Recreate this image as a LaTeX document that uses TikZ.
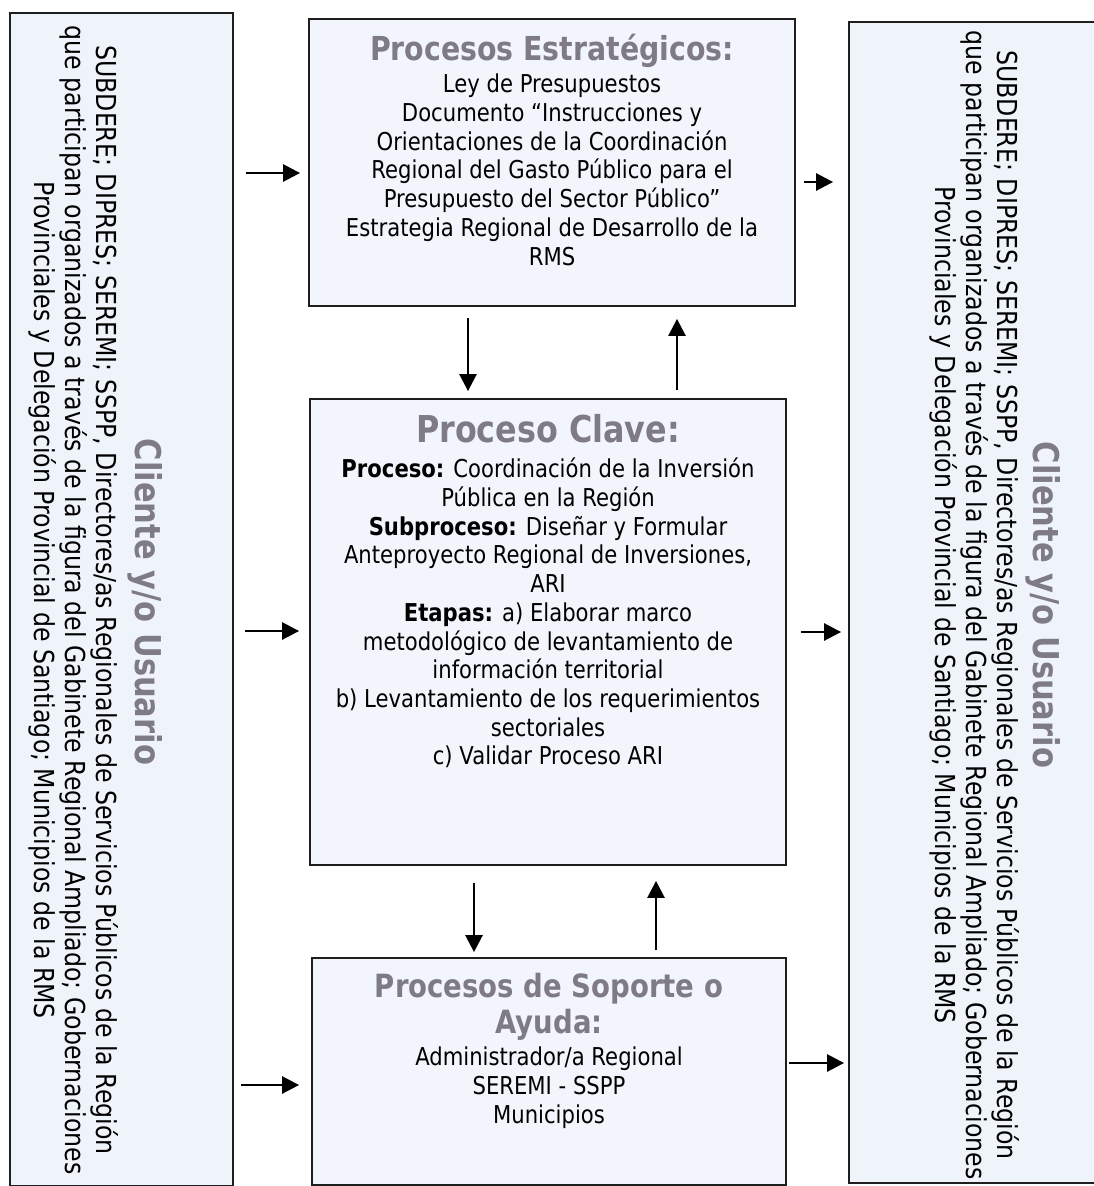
\documentclass[tikz,border=0pt]{standalone}
\usepackage{fontspec}
\setmainfont{DejaVu Sans}[FakeStretch=0.86]
\usetikzlibrary{arrows.meta}
\definecolor{boxfill}{RGB}{242,245,251}
\definecolor{sidefill}{RGB}{239,244,250}
\definecolor{titlegray}{RGB}{126,122,134}
\definecolor{edge}{RGB}{30,30,30}
\begin{document}
\begin{tikzpicture}[x=1pt,y=-1pt,
  box/.style={draw=edge, line width=1.8pt, fill=boxfill, inner sep=0pt},
  sidebox/.style={box, fill=sidefill},
  body/.style={inner sep=0pt, align=center, anchor=north, text=black, font=\fontsize{24.6}{28.7}\selectfont},
  sidetext/.style={inner sep=0pt, align=center, anchor=north, rotate=-90, text=black, font=\fontsize{27.5}{31}\selectfont},
  ttlA/.style={inner sep=0pt, anchor=base, text=titlegray, font=\bfseries\fontsize{33}{38}\selectfont},
  ttlB/.style={inner sep=0pt, anchor=base, text=titlegray, font=\bfseries\fontsize{37}{41}\selectfont},
  ttlC/.style={inner sep=0pt, align=center, anchor=north, text=titlegray, font=\bfseries\fontsize{32}{36}\selectfont},
  sidettl/.style={inner sep=0pt, anchor=base, rotate=-90, text=titlegray, font=\bfseries\fontsize{35.5}{40}\selectfont},
  arr/.style={draw=black, line width=2.6pt, -{Triangle[length=17pt,width=17pt]}}
]
\fill[white] (0,0) rectangle (1094,1186);
\useasboundingbox (0,0) rectangle (1094,1186);

% boxes
\node[sidebox, minimum width=223pt, minimum height=1173pt] (left) at (121.5,599.5) {};
\node[sidebox, minimum width=261pt, minimum height=1161pt] (right) at (979.5,602.5) {};
\node[box, minimum width=486pt, minimum height=287pt] (top) at (552,162.5) {};
\node[box, minimum width=476pt, minimum height=466pt] (mid) at (548,632) {};
\node[box, minimum width=474pt, minimum height=227pt] (bot) at (549,1071.5) {};

% texts of side boxes
\node[sidettl] (leftT) at (135,602) {Cliente y/o Usuario};
\node[sidetext] (leftB) at (119,600) {SUBDERE; DIPRES; SEREMI; SSPP, Directores/as Regionales de Servicios Públicos de la Región\\
que participan organizados a través de la figura del Gabinete Regional Ampliado; Gobernaciones\\
Provinciales y Delegación Provincial de Santiago; Municipios de la RMS};
\node[sidettl] (rightT) at (1033,605) {Cliente y/o Usuario};
\node[sidetext] (rightB) at (1020,605) {SUBDERE; DIPRES; SEREMI; SSPP, Directores/as Regionales de Servicios Públicos de la Región\\
que participan organizados a través de la figura del Gabinete Regional Ampliado; Gobernaciones\\
Provinciales y Delegación Provincial de Santiago; Municipios de la RMS};

% top box
\node[ttlA] (topT) at (552,60) {Procesos Estratégicos:};
\node[body] (topB) at (552,74) {Ley de Presupuestos\\
Documento “Instrucciones y\\
Orientaciones de la Coordinación\\
Regional del Gasto Público para el\\
Presupuesto del Sector Público”\\
Estrategia Regional de Desarrollo de la\\
RMS};

% middle box
\node[ttlB] (midT) at (548,442) {Proceso Clave:};
\node[body] (midB) at (548,458) {\textbf{Proceso:} Coordinación de la Inversión\\
Pública en la Región\\
\textbf{Subproceso:} Diseñar y Formular\\
Anteproyecto Regional de Inversiones,\\
ARI\\
\textbf{Etapas:} a) Elaborar marco\\
metodológico de levantamiento de\\
información territorial\\
b) Levantamiento de los requerimientos\\
sectoriales\\
c) Validar Proceso ARI};

% bottom box
\node[ttlC] (botT) at (549,973) {Procesos de Soporte o\\ Ayuda:};
\node[body] (botB) at (549,1047) {Administrador/a Regional\\
SEREMI - SSPP\\
Municipios};

% horizontal arrows
\draw[arr, shorten <=12pt, shorten >=8pt] (left.east |- 0,173) -- (top.west |- 0,173);
\draw[arr, shorten <=8pt, shorten >=15pt] (top.east |- 0,182) -- (right.west |- 0,182);
\draw[arr, shorten <=11pt, shorten >=10pt] (left.east |- 0,631) -- (mid.west |- 0,631);
\draw[arr, shorten <=14pt, shorten >=7pt] (mid.east |- 0,632) -- (right.west |- 0,632);
\draw[arr, shorten <=7pt, shorten >=12pt] (left.east |- 0,1085) -- (bot.west |- 0,1085);
\draw[arr, shorten <=2pt, shorten >=4pt] (bot.east |- 0,1063) -- (right.west |- 0,1063);

% vertical arrows
\draw[arr, shorten <=11pt, shorten >=7pt] (top.south -| 468,0) -- (mid.north -| 468,0);
\draw[arr, shorten <=8pt, shorten >=12pt] (mid.north -| 677,0) -- (top.south -| 677,0);
\draw[arr, shorten <=17pt, shorten >=5pt] (mid.south -| 474,0) -- (bot.north -| 474,0);
\draw[arr, shorten <=7pt, shorten >=15pt] (bot.north -| 656,0) -- (mid.south -| 656,0);
\end{tikzpicture}
\end{document}
